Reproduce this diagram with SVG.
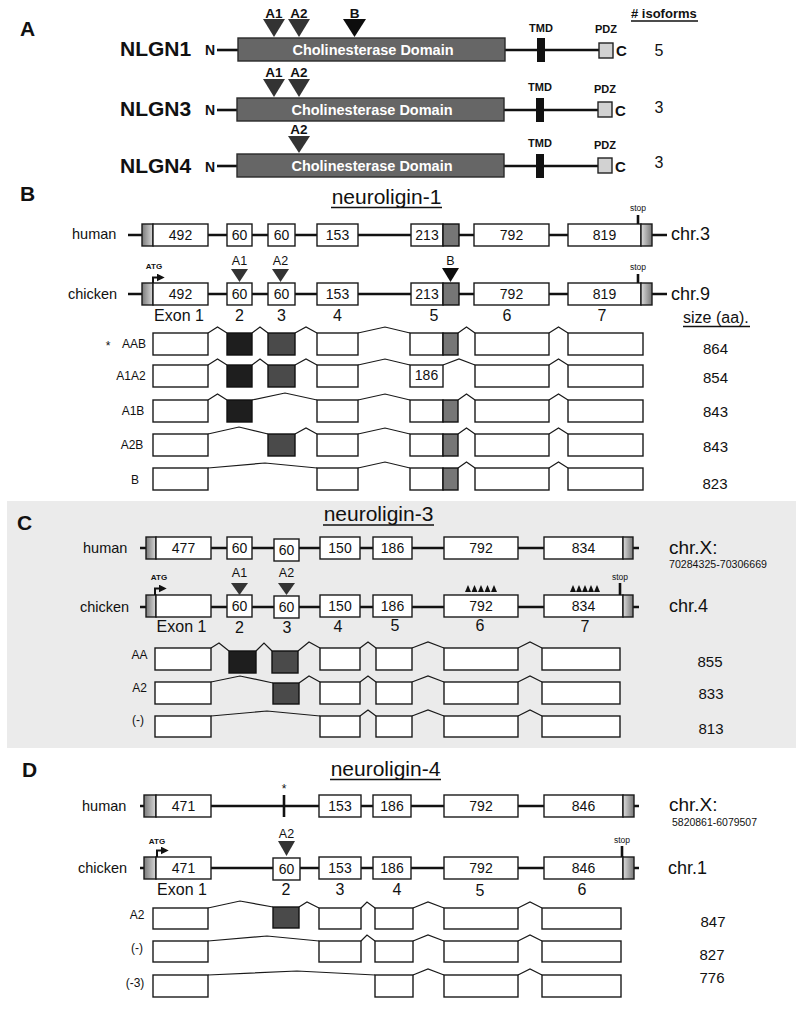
<svg xmlns="http://www.w3.org/2000/svg" width="800" height="1027" viewBox="0 0 800 1027">
<style>
text { font-family: 'Liberation Sans', Arial, sans-serif; fill: #111; }
.b { font-weight: bold; }
.m { text-anchor: middle; }
.e { text-anchor: end; }
.box { fill: #fff; stroke: #1a1a1a; stroke-width: 1.4; }
.ln { stroke: #111; stroke-width: 2.6; fill: none; }
.sp { fill: none; stroke: #1a1a1a; stroke-width: 1.2; }
.n { font-size: 14px; text-anchor: middle; }
.ex { font-size: 16px; text-anchor: middle; }
.lbl { font-size: 14.5px; }
.iso { font-size: 12px; text-anchor: middle; }
.sz { font-size: 15px; text-anchor: middle; }
.d1 { fill: #1e1e1e; stroke: #111; stroke-width: 1.4; }
.d2 { fill: #4a4a4a; stroke: #111; stroke-width: 1.4; }
.gx { fill: #767676; stroke: #111; stroke-width: 1.4; }
.u5 { fill: url(#g5); stroke: #1a1a1a; stroke-width: 1.4; }
.u3 { fill: url(#g3); stroke: #1a1a1a; stroke-width: 1.4; }
.dom { fill: #666; stroke: #2a2a2a; stroke-width: 1.4; }
.pdz { fill: #d2d2d2; stroke: #222; stroke-width: 1.4; }
.tmd { fill: #111; }
.t1 { fill: #333; }
.t0 { fill: #0d0d0d; }
.stop { font-size: 8.5px; text-anchor: middle; }
.atg { font-size: 8px; font-weight: bold; text-anchor: middle; }
.ul { stroke: #111; stroke-width: 1.3; }
</style>
<defs>
<linearGradient id="g5" x1="0" y1="0" x2="1" y2="0"><stop offset="0" stop-color="#7a7a7a"/><stop offset="1" stop-color="#d8d8d8"/></linearGradient>
<linearGradient id="g3" x1="0" y1="0" x2="1" y2="0"><stop offset="0" stop-color="#dcdcdc"/><stop offset="1" stop-color="#777"/></linearGradient>
<marker id="ah" viewBox="0 0 6 6" refX="1" refY="3" markerWidth="4" markerHeight="4" orient="auto"><path d="M0,0 L6,3 L0,6 z" fill="#111"/></marker>
</defs>
<rect x="0" y="0" width="800" height="1027" fill="#fff"/>

<!-- ================= PANEL A ================= -->
<g id="panelA">
<text x="20" y="36" class="b" font-size="21">A</text>
<text x="631" y="18" class="b" font-size="13">#  isoforms</text>
<line x1="631" y1="21" x2="698" y2="21" class="ul"/>
</g>
<g id="A-NLGN1">
<text x="120" y="56" class="b" font-size="21">NLGN1</text>
<text x="205" y="55" class="b" font-size="14">N</text>
<line x1="217" y1="50" x2="238" y2="50" class="ln"/>
<line x1="505" y1="50" x2="599" y2="50" class="ln"/>
<rect x="238" y="38" width="267" height="23" class="dom"/>
<text x="373" y="55" class="b m" font-size="14.5" style="fill:#fff">Cholinesterase Domain</text>
<rect x="537" y="38" width="8" height="24" class="tmd"/>
<rect x="599" y="43" width="14" height="15" class="pdz"/>
<text x="616" y="56" class="b" font-size="15">C</text>
<text x="541" y="32" class="b m" font-size="11">TMD</text>
<text x="606" y="33" class="b m" font-size="11">PDZ</text>
<polygon points="263,19 285,19 274,37" class="t1"/>
<polygon points="288,19 310,19 299,37" class="t1"/>
<polygon points="343,19 366,19 354.5,37" class="t0"/>
<text x="274" y="18" class="b m" font-size="13.5">A1</text>
<text x="299" y="18" class="b m" font-size="13.5">A2</text>
<text x="354.5" y="18" class="b m" font-size="13.5">B</text>
<text x="659" y="56" class="m" font-size="16">5</text>
</g>
<g id="A-NLGN3">
<text x="120" y="116" class="b" font-size="21">NLGN3</text>
<text x="205" y="115" class="b" font-size="14">N</text>
<line x1="217" y1="110" x2="237" y2="110" class="ln"/>
<line x1="504" y1="110" x2="598" y2="110" class="ln"/>
<rect x="237" y="98" width="267" height="23" class="dom"/>
<text x="372" y="115" class="b m" font-size="14.5" style="fill:#fff">Cholinesterase Domain</text>
<rect x="536" y="98" width="8" height="24" class="tmd"/>
<rect x="598" y="102" width="14" height="15" class="pdz"/>
<text x="615" y="116" class="b" font-size="15">C</text>
<text x="540" y="91" class="b m" font-size="11">TMD</text>
<text x="605" y="93" class="b m" font-size="11">PDZ</text>
<polygon points="263,79 285,79 274,97" class="t1"/>
<polygon points="288,79 310,79 299,97" class="t1"/>
<text x="274" y="77" class="b m" font-size="13.5">A1</text>
<text x="299" y="77" class="b m" font-size="13.5">A2</text>
<text x="659" y="113" class="m" font-size="16">3</text>
</g>
<g id="A-NLGN4">
<text x="120" y="173" class="b" font-size="21">NLGN4</text>
<text x="205" y="172" class="b" font-size="14">N</text>
<line x1="217" y1="166" x2="237" y2="166" class="ln"/>
<line x1="504" y1="166" x2="598" y2="166" class="ln"/>
<rect x="237" y="154" width="267" height="23" class="dom"/>
<text x="372" y="171" class="b m" font-size="14.5" style="fill:#fff">Cholinesterase Domain</text>
<rect x="536" y="154" width="8" height="24" class="tmd"/>
<rect x="598" y="158" width="14" height="15" class="pdz"/>
<text x="615" y="172" class="b" font-size="15">C</text>
<text x="540" y="147" class="b m" font-size="11">TMD</text>
<text x="605" y="149" class="b m" font-size="11">PDZ</text>
<polygon points="288,136 310,136 299,153" class="t1"/>
<text x="299" y="134" class="b m" font-size="13.5">A2</text>
<text x="659" y="168" class="m" font-size="16">3</text>
</g>

<!-- ================= PANEL B ================= -->
<g id="panelB">
<text x="20" y="201" class="b" font-size="21">B</text>
<text x="386.5" y="204" class="m" font-size="21">neuroligin-1</text>
<line x1="331" y1="207.5" x2="442" y2="207.5" class="ul"/>
<text x="683" y="323" font-size="16">size (aa).</text>
<line x1="683" y1="326.5" x2="750" y2="326.5" class="ul"/>
</g>
<g id="B-connectors">
<line x1="128" y1="235" x2="667" y2="235" class="ln"/>
<line x1="128" y1="294" x2="667" y2="294" class="ln"/>
<path class="sp" d="M208,333 L217.5,327 L227,333 M252,333 L260,327 L268,333 M295,333 L306,327 L317,333 M358,333 L385,327 L410,333 M458,333 L466.5,327 L475,333 M549,333 L558.5,327 L568,333"/>
<path class="sp" d="M208,365 L217.5,359 L227,365 M252,365 L260,359 L268,365 M295,365 L306,359 L317,365 M358,365 L385,359 L410,365 M443,365 L459,359 L475,365 M549,365 L558.5,359 L568,365"/>
<path class="sp" d="M208,400 L217.5,394 L227,400 M252,400 L285,393 L317,400 M358,400 L385,394 L410,400 M458,400 L466.5,394 L475,400 M549,400 L558.5,394 L568,400"/>
<path class="sp" d="M208,434 L239,427 L268,434 M295,434 L306,428 L317,434 M358,434 L385,428 L410,434 M458,434 L466.5,428 L475,434 M549,434 L558.5,428 L568,434"/>
<path class="sp" d="M208,468 L265,463 L317,468 M358,468 L385,462 L410,468 M458,468 L466.5,462 L475,468 M549,468 L558.5,462 L568,468"/>
</g>
<g id="B-human">
<text x="72" y="239" class="lbl">human</text>
<rect x="142" y="224" width="11" height="22" class="u5"/>
<rect x="153" y="224" width="55" height="22" class="box"/><text x="180.5" y="240" class="n">492</text>
<rect x="227" y="224" width="25" height="22" class="box"/><text x="239.5" y="240" class="n">60</text>
<rect x="268" y="224" width="27" height="22" class="box"/><text x="281.5" y="240" class="n">60</text>
<rect x="317" y="224" width="41" height="22" class="box"/><text x="337.5" y="240" class="n">153</text>
<rect x="411" y="224" width="32" height="22" class="box"/><text x="427" y="240" class="n">213</text>
<rect x="443" y="224" width="16" height="22" class="gx"/>
<rect x="474" y="224" width="75" height="22" class="box"/><text x="511.5" y="240" class="n">792</text>
<rect x="568" y="224" width="73" height="22" class="box"/><text x="604.5" y="240" class="n">819</text>
<rect x="641" y="224" width="11" height="22" class="u3"/>
<line x1="638" y1="215" x2="638" y2="224" class="ln" stroke-width="2"/>
<text x="638" y="211" class="stop">stop</text>
<text x="671" y="240" font-size="18">chr.3</text>
</g>
<g id="B-chicken">
<text x="68" y="299" class="lbl">chicken</text>
<rect x="142" y="283" width="11" height="22" class="u5"/>
<rect x="153" y="283" width="55" height="22" class="box"/><text x="180.5" y="299" class="n">492</text>
<rect x="227" y="283" width="25" height="22" class="box"/><text x="239.5" y="299" class="n">60</text>
<rect x="268" y="283" width="27" height="22" class="box"/><text x="281.5" y="299" class="n">60</text>
<rect x="317" y="283" width="41" height="22" class="box"/><text x="337.5" y="299" class="n">153</text>
<rect x="411" y="283" width="32" height="22" class="box"/><text x="427" y="299" class="n">213</text>
<rect x="443" y="283" width="16" height="22" class="gx"/>
<rect x="474" y="283" width="75" height="22" class="box"/><text x="511.5" y="299" class="n">792</text>
<rect x="568" y="283" width="73" height="22" class="box"/><text x="604.5" y="299" class="n">819</text>
<rect x="641" y="283" width="11" height="22" class="u3"/>
<line x1="638" y1="274" x2="638" y2="283" class="ln" stroke-width="2"/>
<text x="638" y="270" class="stop">stop</text>
<text x="154" y="269" class="atg">ATG</text>
<path d="M153,283 V277.5 H158" fill="none" stroke="#111" stroke-width="2" marker-end="url(#ah)"/>
<polygon points="231,269 248,269 239.5,282" class="t1"/>
<polygon points="272,269 289,269 280.5,282" class="t1"/>
<polygon points="442,268 459,268 450.5,282" class="t0"/>
<text x="239.5" y="265" class="m" font-size="12.5">A1</text>
<text x="280.5" y="265" class="m" font-size="12.5">A2</text>
<text x="450.5" y="265" class="m" font-size="12.5">B</text>
<text x="671" y="300" font-size="18">chr.9</text>
<text x="179" y="321" class="ex">Exon 1</text>
<text x="239.5" y="321" class="ex">2</text>
<text x="281.5" y="321" class="ex">3</text>
<text x="337.5" y="321" class="ex">4</text>
<text x="434" y="321" class="ex">5</text>
<text x="507" y="321" class="ex">6</text>
<text x="602" y="321" class="ex">7</text>
</g>
<g id="B-AAB">
<text x="108" y="350" class="m" font-size="12">*</text>
<text x="134" y="348" class="iso">AAB</text>
<rect x="153" y="333" width="55" height="22" class="box"/>
<rect x="227" y="333" width="25" height="22" class="d1"/>
<rect x="268" y="333" width="27" height="22" class="d2"/>
<rect x="317" y="333" width="41" height="22" class="box"/>
<rect x="410" y="333" width="33" height="22" class="box"/>
<rect x="443" y="333" width="15" height="22" class="gx"/>
<rect x="475" y="333" width="74" height="22" class="box"/>
<rect x="568" y="333" width="75" height="22" class="box"/>
<text x="715.5" y="354" class="sz">864</text>
</g>
<g id="B-A1A2">
<text x="131" y="380" class="iso">A1A2</text>
<rect x="153" y="365" width="55" height="22" class="box"/>
<rect x="227" y="365" width="25" height="22" class="d1"/>
<rect x="268" y="365" width="27" height="22" class="d2"/>
<rect x="317" y="365" width="41" height="22" class="box"/>
<rect x="410" y="365" width="33" height="22" class="box"/><text x="426.5" y="380" class="n" font-size="13">186</text>
<rect x="475" y="365" width="74" height="22" class="box"/>
<rect x="568" y="365" width="75" height="22" class="box"/>
<text x="715.5" y="383" class="sz">854</text>
</g>
<g id="B-A1B">
<text x="133" y="415" class="iso">A1B</text>
<rect x="153" y="400" width="55" height="22" class="box"/>
<rect x="227" y="400" width="25" height="22" class="d1"/>
<rect x="317" y="400" width="41" height="22" class="box"/>
<rect x="410" y="400" width="33" height="22" class="box"/>
<rect x="443" y="400" width="15" height="22" class="gx"/>
<rect x="475" y="400" width="74" height="22" class="box"/>
<rect x="568" y="400" width="75" height="22" class="box"/>
<text x="715.5" y="417" class="sz">843</text>
</g>
<g id="B-A2B">
<text x="132" y="449" class="iso">A2B</text>
<rect x="153" y="434" width="55" height="22" class="box"/>
<rect x="268" y="434" width="27" height="22" class="d2"/>
<rect x="317" y="434" width="41" height="22" class="box"/>
<rect x="410" y="434" width="33" height="22" class="box"/>
<rect x="443" y="434" width="15" height="22" class="gx"/>
<rect x="475" y="434" width="74" height="22" class="box"/>
<rect x="568" y="434" width="75" height="22" class="box"/>
<text x="715.5" y="452" class="sz">843</text>
</g>
<g id="B-B">
<text x="135" y="484" class="iso">B</text>
<rect x="153" y="468" width="55" height="22" class="box"/>
<rect x="317" y="468" width="41" height="22" class="box"/>
<rect x="410" y="468" width="33" height="22" class="box"/>
<rect x="443" y="468" width="15" height="22" class="gx"/>
<rect x="475" y="468" width="74" height="22" class="box"/>
<rect x="568" y="468" width="75" height="22" class="box"/>
<text x="715" y="489" class="sz">823</text>
</g>

<!-- ================= PANEL C ================= -->
<g id="panelC">
<rect x="7" y="501" width="789" height="247" fill="#ebebeb"/>
<text x="17" y="530" class="b" font-size="21">C</text>
<text x="378.5" y="521" class="m" font-size="21">neuroligin-3</text>
<line x1="323" y1="525" x2="434" y2="525" class="ul"/>
</g>
<g id="C-connectors">
<line x1="140" y1="548" x2="639" y2="548" class="ln"/>
<line x1="140" y1="607" x2="639" y2="607" class="ln"/>
<path class="sp" d="M211,648 L219,643 L229,651 M256,651 L264,643 L272,651 M298,651 L309,642 L320,648 M360,648 L368,642 L376,648 M412,648 L428,642 L444,648 M518,648 L530,642 L542,648"/>
<path class="sp" d="M211,682 L240,676 L273,683 M299,683 L309,676 L320,682 M360,682 L368,676 L376,682 M412,682 L428,676 L444,682 M518,682 L530,676 L542,682"/>
<path class="sp" d="M211,716 L267,711 L320,716 M360,716 L368,710 L376,716 M412,716 L428,710 L444,716 M518,716 L530,710 L542,716"/>
</g>
<g id="C-human">
<text x="83" y="553" class="lbl">human</text>
<rect x="146" y="537" width="10" height="22" class="u5"/>
<rect x="156" y="537" width="55" height="22" class="box"/><text x="183.5" y="553" class="n">477</text>
<rect x="227" y="537" width="25" height="22" class="box"/><text x="239.5" y="553" class="n">60</text>
<rect x="274" y="539" width="25" height="22" class="box"/><text x="286.5" y="555" class="n">60</text>
<rect x="320" y="537" width="40" height="22" class="box"/><text x="340" y="553" class="n">150</text>
<rect x="373" y="537" width="39" height="22" class="box"/><text x="392.5" y="553" class="n">186</text>
<rect x="444" y="537" width="74" height="22" class="box"/><text x="481" y="553" class="n">792</text>
<rect x="544" y="537" width="79" height="22" class="box"/><text x="583.5" y="553" class="n">834</text>
<rect x="623" y="537" width="10" height="22" class="u3"/>
<text x="669" y="554" font-size="19">chr.X:</text>
<text x="669" y="568" font-size="10" textLength="98" lengthAdjust="spacingAndGlyphs">70284325-70306669</text>
</g>
<g id="C-chicken">
<text x="80" y="612" class="lbl">chicken</text>
<rect x="146" y="595" width="10" height="22" class="u5"/>
<rect x="156" y="595" width="55" height="22" class="box"/>
<rect x="227" y="595" width="25" height="22" class="box"/><text x="239.5" y="611" class="n">60</text>
<rect x="274" y="596" width="25" height="22" class="box"/><text x="286.5" y="612" class="n">60</text>
<rect x="320" y="595" width="40" height="22" class="box"/><text x="340" y="611" class="n">150</text>
<rect x="373" y="595" width="39" height="22" class="box"/><text x="392.5" y="611" class="n">186</text>
<rect x="444" y="595" width="74" height="22" class="box"/><text x="481" y="611" class="n">792</text>
<rect x="544" y="595" width="79" height="22" class="box"/><text x="583.5" y="611" class="n">834</text>
<rect x="623" y="595" width="10" height="22" class="u3"/>
<line x1="620" y1="583" x2="620" y2="595" class="ln" stroke-width="2"/>
<text x="620" y="580" class="stop">stop</text>
<text x="159" y="580" class="atg">ATG</text>
<path d="M155,595 V588.5 H160" fill="none" stroke="#111" stroke-width="2" marker-end="url(#ah)"/>
<polygon points="231,583 248,583 239.5,595" class="t1"/>
<polygon points="278,583 295,583 286.5,595" class="t1"/>
<text x="239.5" y="577" class="m" font-size="12.5">A1</text>
<text x="286.5" y="577" class="m" font-size="12.5">A2</text>
<g fill="#111">
<polygon points="465,592 471,592 468,585"/><polygon points="471.5,592 477.5,592 474.5,585"/><polygon points="478,592 484,592 481,585"/><polygon points="484.5,592 490.5,592 487.5,585"/><polygon points="491,592 497,592 494,585"/>
<polygon points="570,592 576,592 573,585"/><polygon points="576,592 582,592 579,585"/><polygon points="582,592 588,592 585,585"/><polygon points="588,592 594,592 591,585"/><polygon points="594,592 600,592 597,585"/>
</g>
<text x="669" y="612" font-size="18">chr.4</text>
<text x="181.5" y="632" class="ex">Exon 1</text>
<text x="239.5" y="633" class="ex">2</text>
<text x="287" y="633" class="ex">3</text>
<text x="338" y="632" class="ex">4</text>
<text x="395" y="631" class="ex">5</text>
<text x="480" y="631" class="ex">6</text>
<text x="585" y="632" class="ex">7</text>
</g>
<g id="C-AA">
<text x="139.5" y="659" class="iso" font-size="11">AA</text>
<rect x="155" y="648" width="56" height="22" class="box"/>
<rect x="229" y="651" width="27" height="22" class="d1"/>
<rect x="272" y="651" width="26" height="22" class="d2"/>
<rect x="320" y="648" width="40" height="22" class="box"/>
<rect x="376" y="648" width="36" height="22" class="box"/>
<rect x="444" y="648" width="74" height="22" class="box"/>
<rect x="542" y="648" width="78" height="22" class="box"/>
<text x="710" y="667" class="sz">855</text>
</g>
<g id="C-A2">
<text x="139.5" y="692" class="iso" font-size="11">A2</text>
<rect x="155" y="682" width="56" height="22" class="box"/>
<rect x="273" y="683" width="26" height="21" class="d2"/>
<rect x="320" y="682" width="40" height="22" class="box"/>
<rect x="376" y="682" width="36" height="22" class="box"/>
<rect x="444" y="682" width="74" height="22" class="box"/>
<rect x="542" y="682" width="78" height="22" class="box"/>
<text x="711" y="699" class="sz">833</text>
</g>
<g id="C-none">
<text x="138" y="724" class="iso" font-size="11">(-)</text>
<rect x="155" y="716" width="56" height="21" class="box"/>
<rect x="320" y="716" width="40" height="21" class="box"/>
<rect x="376" y="716" width="36" height="21" class="box"/>
<rect x="444" y="716" width="74" height="21" class="box"/>
<rect x="542" y="716" width="78" height="21" class="box"/>
<text x="711" y="734" class="sz">813</text>
</g>

<!-- ================= PANEL D ================= -->
<g id="panelD">
<text x="22" y="777" class="b" font-size="21">D</text>
<text x="385.5" y="776" class="m" font-size="21">neuroligin-4</text>
<line x1="330" y1="779.5" x2="441" y2="779.5" class="ul"/>
</g>
<g id="D-connectors">
<line x1="140" y1="806" x2="639" y2="806" class="ln"/>
<line x1="140" y1="868" x2="639" y2="868" class="ln"/>
<path class="sp" d="M208,908 L240,901 L273,907 M299,907 L307,902 L319,908 M361,908 L367,902 L375,908 M413,908 L428,902 L444,908 M518,908 L530,902 L542,908"/>
<path class="sp" d="M208,941 L267,936 L319,941 M361,941 L367,935 L375,941 M413,941 L428,935 L444,941 M518,941 L530,935 L542,941"/>
<path class="sp" d="M208,975 L297,971 L375,975 M413,975 L428,969 L444,975 M518,975 L530,969 L542,975"/>
</g>
<g id="D-human">
<text x="82" y="811" class="lbl">human</text>
<rect x="144" y="795" width="12" height="22" class="u5"/>
<rect x="156" y="795" width="55" height="22" class="box"/><text x="183.5" y="811" class="n">471</text>
<line x1="284" y1="795" x2="284" y2="817" class="ln"/>
<text x="284" y="793" class="m" font-size="12">*</text>
<rect x="319" y="795" width="42" height="22" class="box"/><text x="340" y="811" class="n">153</text>
<rect x="373" y="795" width="38" height="22" class="box"/><text x="392" y="811" class="n">186</text>
<rect x="444" y="795" width="74" height="22" class="box"/><text x="481" y="811" class="n">792</text>
<rect x="544" y="795" width="79" height="22" class="box"/><text x="583.5" y="811" class="n">846</text>
<rect x="623" y="795" width="11" height="22" class="u3"/>
<text x="669" y="811" font-size="19">chr.X:</text>
<text x="672" y="826" font-size="10" textLength="85" lengthAdjust="spacingAndGlyphs">5820861-6079507</text>
</g>
<g id="D-chicken">
<text x="78" y="873" class="lbl">chicken</text>
<rect x="144" y="857" width="12" height="22" class="u5"/>
<rect x="156" y="857" width="55" height="22" class="box"/><text x="183.5" y="873" class="n">471</text>
<rect x="273" y="858" width="27" height="22" class="box"/><text x="286.5" y="874" class="n">60</text>
<rect x="319" y="857" width="42" height="22" class="box"/><text x="340" y="873" class="n">153</text>
<rect x="373" y="857" width="38" height="22" class="box"/><text x="392" y="873" class="n">186</text>
<rect x="444" y="857" width="74" height="22" class="box"/><text x="481" y="873" class="n">792</text>
<rect x="544" y="857" width="79" height="22" class="box"/><text x="583.5" y="873" class="n">846</text>
<rect x="623" y="857" width="11" height="22" class="u3"/>
<line x1="622" y1="846" x2="622" y2="857" class="ln" stroke-width="2"/>
<text x="622" y="843" class="stop">stop</text>
<text x="157" y="844" class="atg">ATG</text>
<path d="M157,857 V850.5 H162" fill="none" stroke="#111" stroke-width="2" marker-end="url(#ah)"/>
<polygon points="278,841 295,841 286.5,856" class="t1"/>
<text x="286.5" y="838" class="m" font-size="12.5">A2</text>
<text x="668" y="874" font-size="18">chr.1</text>
<text x="182" y="895" class="ex" font-size="15.5">Exon 1</text>
<text x="286" y="895" class="ex" font-size="15.5">2</text>
<text x="340" y="895" class="ex" font-size="15.5">3</text>
<text x="397" y="895" class="ex" font-size="15.5">4</text>
<text x="480" y="896" class="ex" font-size="15.5">5</text>
<text x="582" y="895" class="ex" font-size="15.5">6</text>
</g>
<g id="D-A2">
<text x="137" y="919" class="iso">A2</text>
<rect x="153" y="908" width="55" height="21" class="box"/>
<rect x="273" y="907" width="26" height="21" class="d2"/>
<rect x="319" y="908" width="42" height="21" class="box"/>
<rect x="375" y="908" width="38" height="21" class="box"/>
<rect x="444" y="908" width="74" height="21" class="box"/>
<rect x="542" y="908" width="79" height="21" class="box"/>
<text x="713" y="927" class="sz">847</text>
</g>
<g id="D-none">
<text x="137" y="952" class="iso">(-)</text>
<rect x="153" y="941" width="55" height="21" class="box"/>
<rect x="319" y="941" width="42" height="21" class="box"/>
<rect x="375" y="941" width="38" height="21" class="box"/>
<rect x="444" y="941" width="74" height="21" class="box"/>
<rect x="542" y="941" width="79" height="21" class="box"/>
<text x="712" y="960" class="sz">827</text>
</g>
<g id="D-minus3">
<text x="135" y="987" class="iso">(-3)</text>
<rect x="153" y="975" width="55" height="22" class="box"/>
<rect x="375" y="975" width="38" height="22" class="box"/>
<rect x="444" y="975" width="74" height="22" class="box"/>
<rect x="542" y="975" width="79" height="22" class="box"/>
<text x="712" y="983" class="sz">776</text>
</g>
</svg>
